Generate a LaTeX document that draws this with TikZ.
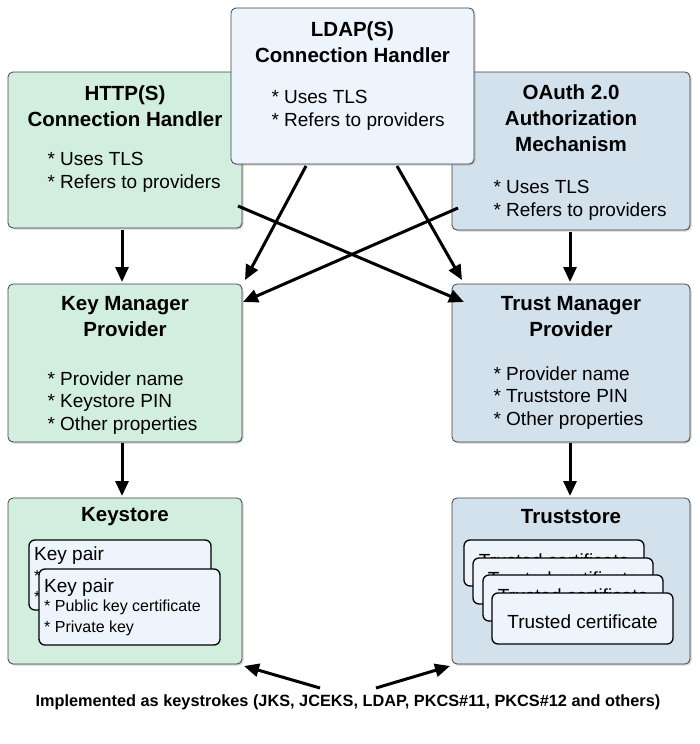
\documentclass[tikz,border=0pt]{standalone}
\usepackage{fontspec}
\setmainfont{Liberation Sans}
\usetikzlibrary{shadows,arrows.meta}
\definecolor{gr}{HTML}{D2EEDF}
\definecolor{bl}{HTML}{D3E1EC}
\definecolor{lt}{HTML}{EEF4FB}
\tikzset{
 box/.style={draw=black!75,line width=0.8pt,rounded corners=5pt,drop shadow={opacity=0.35,shadow xshift=1.5pt,shadow yshift=-1.5pt}},
 inner/.style={draw=black,line width=1.3pt,rounded corners=6pt,fill=lt},
 ttl/.style={font=\bfseries\fontsize{20.5}{26}\selectfont,align=center},
 txt/.style={font=\fontsize{19}{22.5}\selectfont,align=left},
 sm/.style={font=\fontsize{16}{20}\selectfont,anchor=west,inner sep=0pt},
 ar/.style={-{Triangle[length=15pt,width=13pt]},line width=3pt}
}
\begin{document}
\begin{tikzpicture}[x=1pt,y=-1pt]
\useasboundingbox (0,0) rectangle (700,744);
\path[box,fill=gr] (8,72) rectangle (242,228);
\path[box,fill=bl] (452,72) rectangle (690,230);
\path[box,fill=gr] (8,284) rectangle (242,442);
\path[box,fill=bl] (452,284) rectangle (690,442);
\path[box,fill=gr] (8,498) rectangle (242,664);
\path[box,fill=bl] (452,498) rectangle (690,664);
\coordinate (h1) at (122,230); \coordinate (k1) at (122,282);
\coordinate (h2) at (238,206); \coordinate (t2) at (464,302);
\coordinate (o2) at (458,208); \coordinate (k2) at (243,302);
\coordinate (l1) at (306,166); \coordinate (k3) at (245,280);
\coordinate (l2) at (397,166); \coordinate (t3) at (462,280);
\coordinate (o1) at (570,232); \coordinate (t1) at (570,282);
\coordinate (k4) at (122,443); \coordinate (ks) at (122,496);
\coordinate (t4) at (570,443); \coordinate (ts) at (570,496);
\draw[ar] (h1) -- (k1);
\draw[ar] (h2) -- (t2);
\draw[ar] (o2) -- (k2);
\draw[ar] (o1) -- (t1);
\draw[ar] (k4) -- (ks);
\draw[ar] (t4) -- (ts);
\path[box,fill=lt] (231,8) rectangle (474,164);
\draw[ar] (l1) -- (k3);
\draw[ar] (l2) -- (t3);
\node[ttl] (ldapT) at (352.5,42) {LDAP(S)\\Connection Handler};
\node[txt,anchor=north west] (ldapB) at (268,87) {* Uses TLS\\* Refers to providers};
\node[ttl] (httpT) at (125,106) {HTTP(S)\\Connection Handler};
\node[txt,anchor=north west] (httpB) at (44,149) {* Uses TLS\\* Refers to providers};
\node[ttl] (oaT) at (571,118) {OAuth 2.0\\Authorization\\Mechanism};
\node[txt,anchor=north west] (oaB) at (490,177) {* Uses TLS\\* Refers to providers};
\node[ttl] (kmT) at (125,317) {Key Manager\\Provider};
\node[txt,anchor=north west] (kmB) at (44,368) {* Provider name\\* Keystore PIN\\* Other properties};
\node[ttl] (tmT) at (571,317) {Trust Manager\\Provider};
\node[txt,anchor=north west] (tmB) at (490,363) {* Provider name\\* Truststore PIN\\* Other properties};
\node[ttl] (ksT) at (125,517) {Keystore};
\node[ttl] (tsT) at (571,517) {Truststore};
\draw[inner] (29,540) rectangle (211,610);
\node[txt,anchor=west,inner sep=0pt] (kp1) at (34,556) {Key pair};
\node[sm] (kp1a) at (34,576) {*};
\node[sm] (kp1b) at (34,597) {*};
\draw[inner] (39,569) rectangle (220,645);
\node[txt,anchor=west,inner sep=0pt] (kp2) at (44,588) {Key pair};
\node[sm] (kp2a) at (44,607) {* Public key certificate};
\node[sm] (kp2b) at (44,628) {* Private key};
\foreach \x/\y in {464/540,473/558,483/575} {
  \draw[inner] (\x,\y) rectangle ++(180,46);
  \begin{scope}
  \clip (\x,\y) rectangle ++(182,19);
  \node[txt] at (\x+90,\y+21) {Trusted certificate};
  \end{scope}
}
\draw[inner] (492,593) rectangle (673,644);
\node[txt] (tc) at (582.5,622) {Trusted certificate};
\node[font=\bfseries\fontsize{16.3}{18}\selectfont] (impl) at (348,702) {Implemented as keystrokes (JKS, JCEKS, LDAP, PKCS\#11, PKCS\#12 and others)};
\coordinate (b1) at (320,688); \coordinate (b2) at (376,688);
\draw[ar] (b1) -- (244,666);
\draw[ar] (b2) -- (450,666);
\end{tikzpicture}
\end{document}
